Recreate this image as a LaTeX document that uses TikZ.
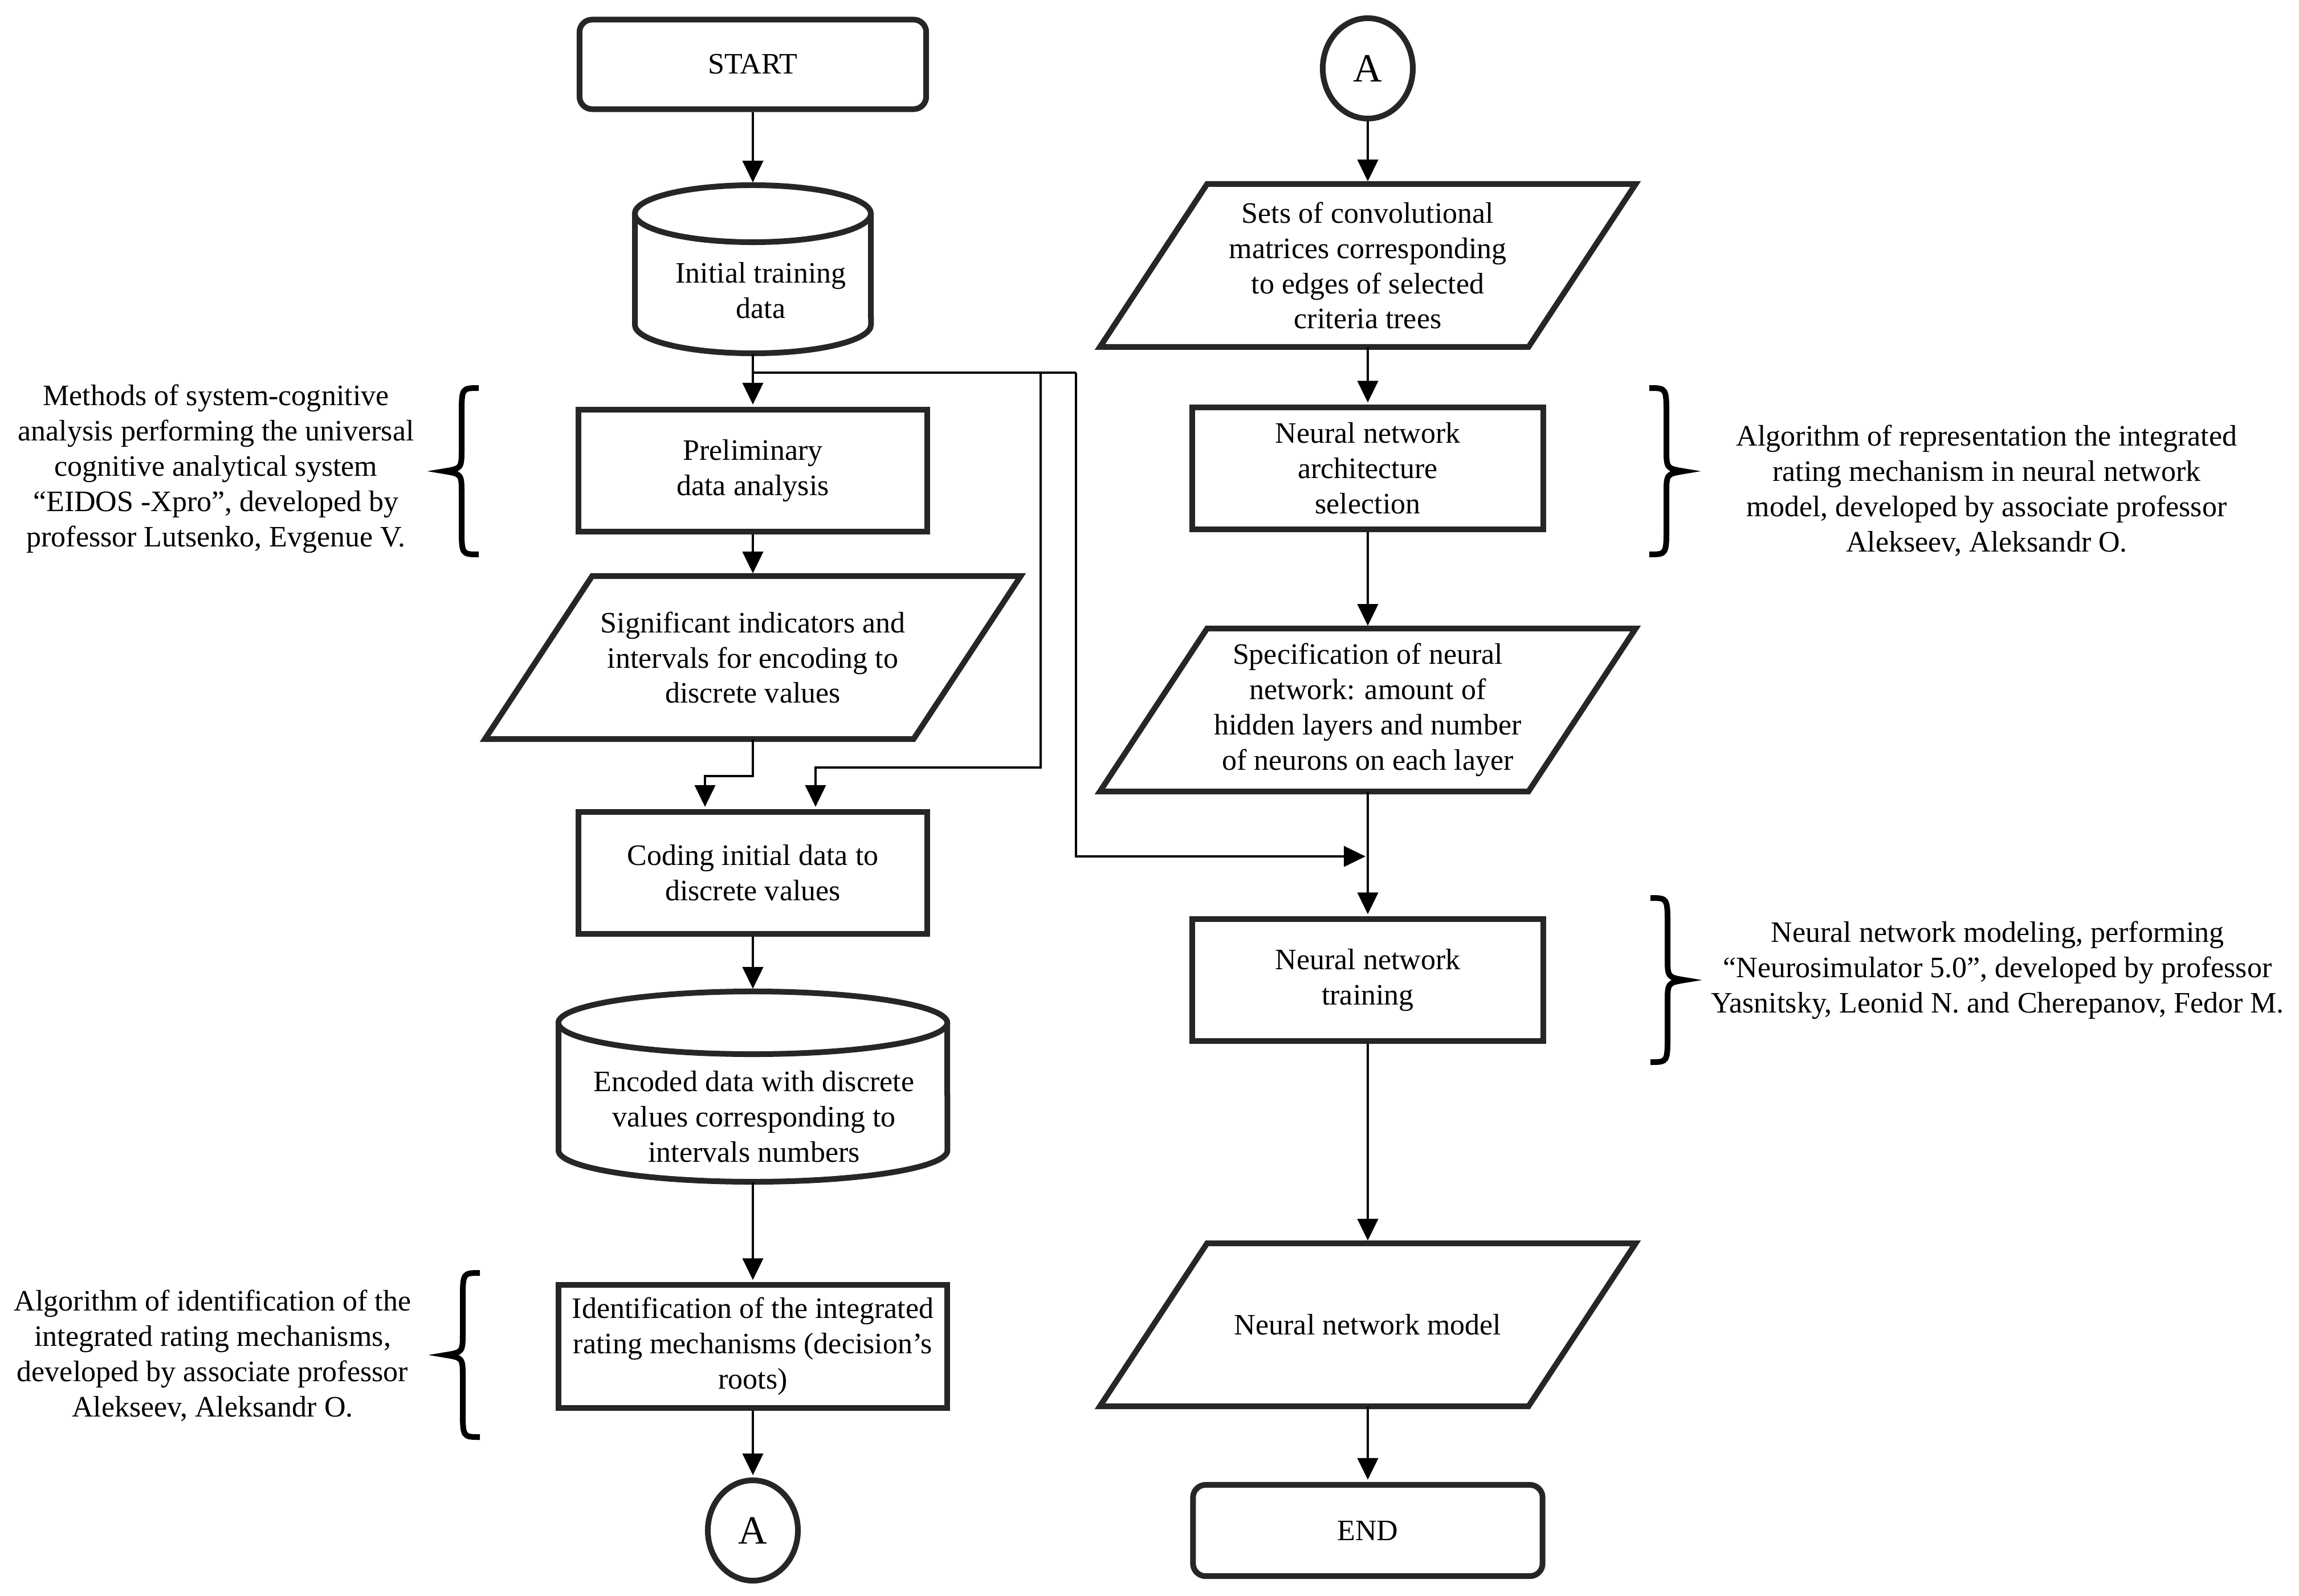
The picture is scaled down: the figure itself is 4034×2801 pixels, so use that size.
\documentclass[tikz,border=0pt]{standalone}
\usepackage{fontspec}
\setmainfont{Liberation Serif}
\usetikzlibrary{arrows.meta,shapes.geometric}
\definecolor{boxgray}{HTML}{262626}
\newcommand\pgram[2]{\draw[boxline] ({#1-376+94},{#2-143}) -- ({#1+376+94},{#2-143}) -- ({#1+376-94},{#2+143}) -- ({#1-376-94},{#2+143}) -- cycle;}
\newcommand\mybraceL[3]{\draw[bracestroke] (#1,#2) .. controls ({#1-30},#2) .. ({#1-30},{#2+48}) -- ({#1-30},{(#2+#3)/2-40}) .. controls ({#1-30},{(#2+#3)/2-5}) .. ({#1-60},{(#2+#3)/2}) .. controls ({#1-30},{(#2+#3)/2+5}) .. ({#1-30},{(#2+#3)/2+40}) -- ({#1-30},{#3-48}) .. controls ({#1-30},#3) .. (#1,#3);}
\newcommand\mybraceR[3]{\draw[bracestroke] (#1,#2) .. controls ({#1+30},#2) .. ({#1+30},{#2+48}) -- ({#1+30},{(#2+#3)/2-40}) .. controls ({#1+30},{(#2+#3)/2-5}) .. ({#1+60},{(#2+#3)/2}) .. controls ({#1+30},{(#2+#3)/2+5}) .. ({#1+30},{(#2+#3)/2+40}) -- ({#1+30},{#3-48}) .. controls ({#1+30},#3) .. (#1,#3);}
\begin{document}
\begin{tikzpicture}[x=0.01cm,y=-0.01cm,
 font=\fontsize{14.8}{17.6}\selectfont,
 boxline/.style={draw=boxgray,line width=0.1cm},
 procbox/.style={boxline,rectangle,inner sep=0,align=center,minimum width=6.11cm,minimum height=2.14cm},
 termbox/.style={boxline,rectangle,rounded corners=0.22cm,inner sep=0,align=center,minimum width=6.08cm,minimum height=1.57cm},
 conbox/.style={boxline,ellipse,inner sep=0,minimum width=1.58cm,minimum height=1.76cm,font=\fontsize{20}{24}\selectfont},
 pframe/.style={inner sep=0,align=center,minimum width=6cm},
 txt/.style={inner sep=0,align=center},
 link/.style={draw=black,line width=0.04cm},
 arr/.style={link,-{Triangle[length=0.38cm,width=0.36cm]},shorten >=0.04cm},
 bracestroke/.style={draw=black,line width=0.1cm},
]
\useasboundingbox (0,0) rectangle (4034,2801);

% ---- left column ----
\node[termbox] (start) at (1321,113) {START};

\node[pframe,minimum height=2.95cm,minimum width=4.14cm] (cyl1) at (1321,472.5) {};
\draw[boxline] (1321,375) ellipse [x radius=2.07cm, y radius=0.5cm];
\draw[boxline] (1114,375) -- (1114,570) arc[start angle=180,end angle=360,x radius=2.07cm,y radius=0.5cm] -- (1528,375);
\node[txt] (cyl1t) at (1335,510) {Initial training\\data};

\node[procbox] (prel) at (1321,826) {Preliminary\\data analysis};

\pgram{1321}{1154}
\node[pframe,minimum height=2.86cm] (sig) at (1321,1154) {Significant indicators and\\intervals for encoding to\\discrete values};

\node[procbox] (code) at (1321,1532) {Coding initial data to\\discrete values};

\node[pframe,minimum height=3.34cm,minimum width=6.82cm] (cyl2) at (1321,1907) {};
\draw[boxline] (1321,1795) ellipse [x radius=3.41cm, y radius=0.55cm];
\draw[boxline] (980,1795) -- (980,2019) arc[start angle=180,end angle=360,x radius=3.41cm,y radius=0.55cm] -- (1662,1795);
\node[txt] (cyl2t) at (1323,1960) {Encoded data with discrete\\values corresponding to\\intervals numbers};

\node[procbox,minimum width=6.82cm,minimum height=2.15cm] (ident) at (1321,2363) {Identification of the integrated\\rating mechanisms (decision’s\\roots)};

\node[conbox] (a1) at (1321,2686) {A};

% ---- right column ----
\node[conbox] (a2) at (2400,120) {A};

\pgram{2400}{466}
\node[pframe,minimum height=2.86cm] (sets) at (2400,466) {Sets of convolutional\\matrices corresponding\\to edges of selected\\criteria trees};

\node[procbox,minimum width=6.16cm,minimum height=2.13cm] (arch) at (2400,822) {Neural network\\architecture\\selection};

\pgram{2400}{1246}
\node[pframe,minimum height=2.86cm] (spec) at (2400,1246) {Specification of neural\\network: amount of\\hidden layers and number\\of neurons on each layer};

\node[procbox,minimum width=6.16cm,minimum height=2.13cm] (train) at (2400,1720) {Neural network\\training};

\pgram{2400}{2325}
\node[pframe,minimum height=2.86cm] (model) at (2400,2325) {Neural network model};

\node[termbox,minimum width=6.13cm,minimum height=1.6cm] (fin) at (2400,2686) {END};

% ---- connectors ----
\coordinate (j1) at (1321,654);
\coordinate (j2) at (1826,654);
\coordinate (j3) at (1888,654);
\coordinate (k1) at (1826,1347);
\coordinate (k2) at (1431,1347);
\coordinate (m2) at (1237,1362);
\coordinate (n1) at (1888,1503);

\draw[arr] (start.south) -- (cyl1.north);
\draw[arr] (cyl1.south) -- (prel.north);
\draw[link] (j1) -- (j3);
\draw[arr] (prel.south) -- (sig.north);
\draw[arr] (j2) -- (k1) -- (k2) -- (k2 |- code.north);
\draw[arr] (sig.south) -- (sig.south |- m2) -- (m2) -- (m2 |- code.north);
\draw[arr] (j3) -- (n1) -- (n1 -| spec.south);
\draw[arr] (code.south) -- (cyl2.north);
\draw[arr] (cyl2.south) -- (ident.north);
\draw[arr] (ident.south) -- (a1.north);

\draw[arr] (a2.south) -- (sets.north);
\draw[arr] (sets.south) -- (arch.north);
\draw[arr] (arch.south) -- (spec.north);
\draw[arr] (spec.south) -- (train.north);
\draw[arr] (train.south) -- (model.north);
\draw[arr] (model.south) -- (fin.north);

% ---- braces and notes ----
\mybraceL{840}{681}{973}
\mybraceL{842}{2234}{2522}
\mybraceR{2894}{681}{973}
\mybraceR{2896}{1576}{1864}

\node[txt] (note1) at (379,823) {Methods of system-cognitive\\analysis performing the universal\\cognitive analytical system\\“EIDOS -Xpro”, developed by\\professor Lutsenko, Evgenue V.};
\node[txt] (note2) at (373,2379) {Algorithm of identification of the\\integrated rating mechanisms,\\developed by associate professor\\Alekseev, Aleksandr O.};
\node[txt] (note3) at (3486,861) {Algorithm of representation the integrated\\rating mechanism in neural network\\model, developed by associate professor\\Alekseev, Aleksandr O.};
\node[txt] (note4) at (3505,1703) {Neural network modeling, performing\\“Neurosimulator 5.0”, developed by professor\\Yasnitsky, Leonid N. and Cherepanov, Fedor M.};
\end{tikzpicture}
\end{document}
